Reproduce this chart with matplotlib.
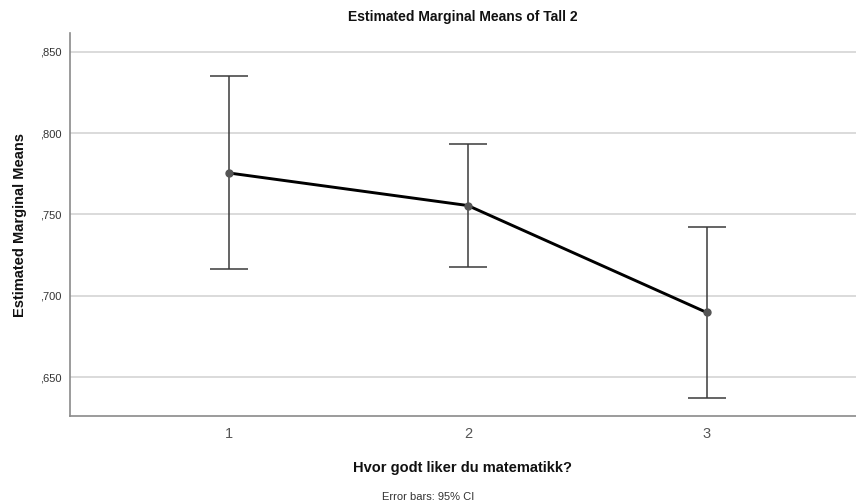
import matplotlib
matplotlib.use("Agg")
import matplotlib.pyplot as plt

plt.rcParams['font.family'] = ['Liberation Sans', 'DejaVu Sans']

categories = [1, 2, 3]
means = [0.7755, 0.7555, 0.6898]
ci_lower = [0.7163, 0.7180, 0.6375]
ci_upper = [0.8352, 0.7935, 0.7423]
y_ticks = [0.650, 0.700, 0.750, 0.800, 0.850]
y_tick_labels = [",650", ",700", ",750", ",800", ",850"]

fig = plt.figure(figsize=(8.56, 5.04), dpi=100)
ax = fig.add_axes([0.0812, 0.1746, 0.9188, 0.7599])

err_lo = [m - lo for m, lo in zip(means, ci_lower)]
err_hi = [hi - m for m, hi in zip(means, ci_upper)]

ax.errorbar(categories, means, yerr=[err_lo, err_hi], fmt='none',
            ecolor='#3a3a3a', elinewidth=1.1, capsize=14, capthick=1.1, zorder=3)
ax.plot(categories, means, color='black', linewidth=2.1, zorder=4,
        solid_capstyle='round')
ax.plot(categories, means, linestyle='none', marker='o', markersize=5,
        color='#555555', zorder=5)

ax.set_xlim(0.332, 3.625)
ax.set_ylim(0.6262, 0.8615)
ax.set_xticks(categories)
ax.set_xticklabels([str(c) for c in categories])
ax.set_yticks(y_ticks)
ax.set_yticklabels(y_tick_labels)

ax.grid(axis='y', color='#d4d4d4', linewidth=1.2, zorder=0)
ax.set_axisbelow(True)
ax.tick_params(axis='both', length=0)
ax.tick_params(axis='y', labelsize=8, labelcolor='#333333', pad=6)
ax.tick_params(axis='x', labelsize=10.5, labelcolor='#555555', pad=8)

for side in ['top', 'right']:
    ax.spines[side].set_visible(False)
for side in ['left', 'bottom']:
    ax.spines[side].set_color('#8a8a8a')
    ax.spines[side].set_linewidth(1.2)

ax.set_title("Estimated Marginal Means of Tall 2", fontsize=10, fontweight='bold',
             color='#111111', pad=9)
ax.set_ylabel("Estimated Marginal Means", fontsize=10.5, fontweight='bold',
              color='#111111', labelpad=9)
ax.set_xlabel("Hvor godt liker du matematikk?", fontsize=10.5, fontweight='bold',
              color='#111111', labelpad=14)
fig.text(0.5, 0.014, "Error bars: 95% CI", ha='center', va='center',
         fontsize=8, color='#333333')

fig.savefig("out.png", dpi=100, facecolor='white')
